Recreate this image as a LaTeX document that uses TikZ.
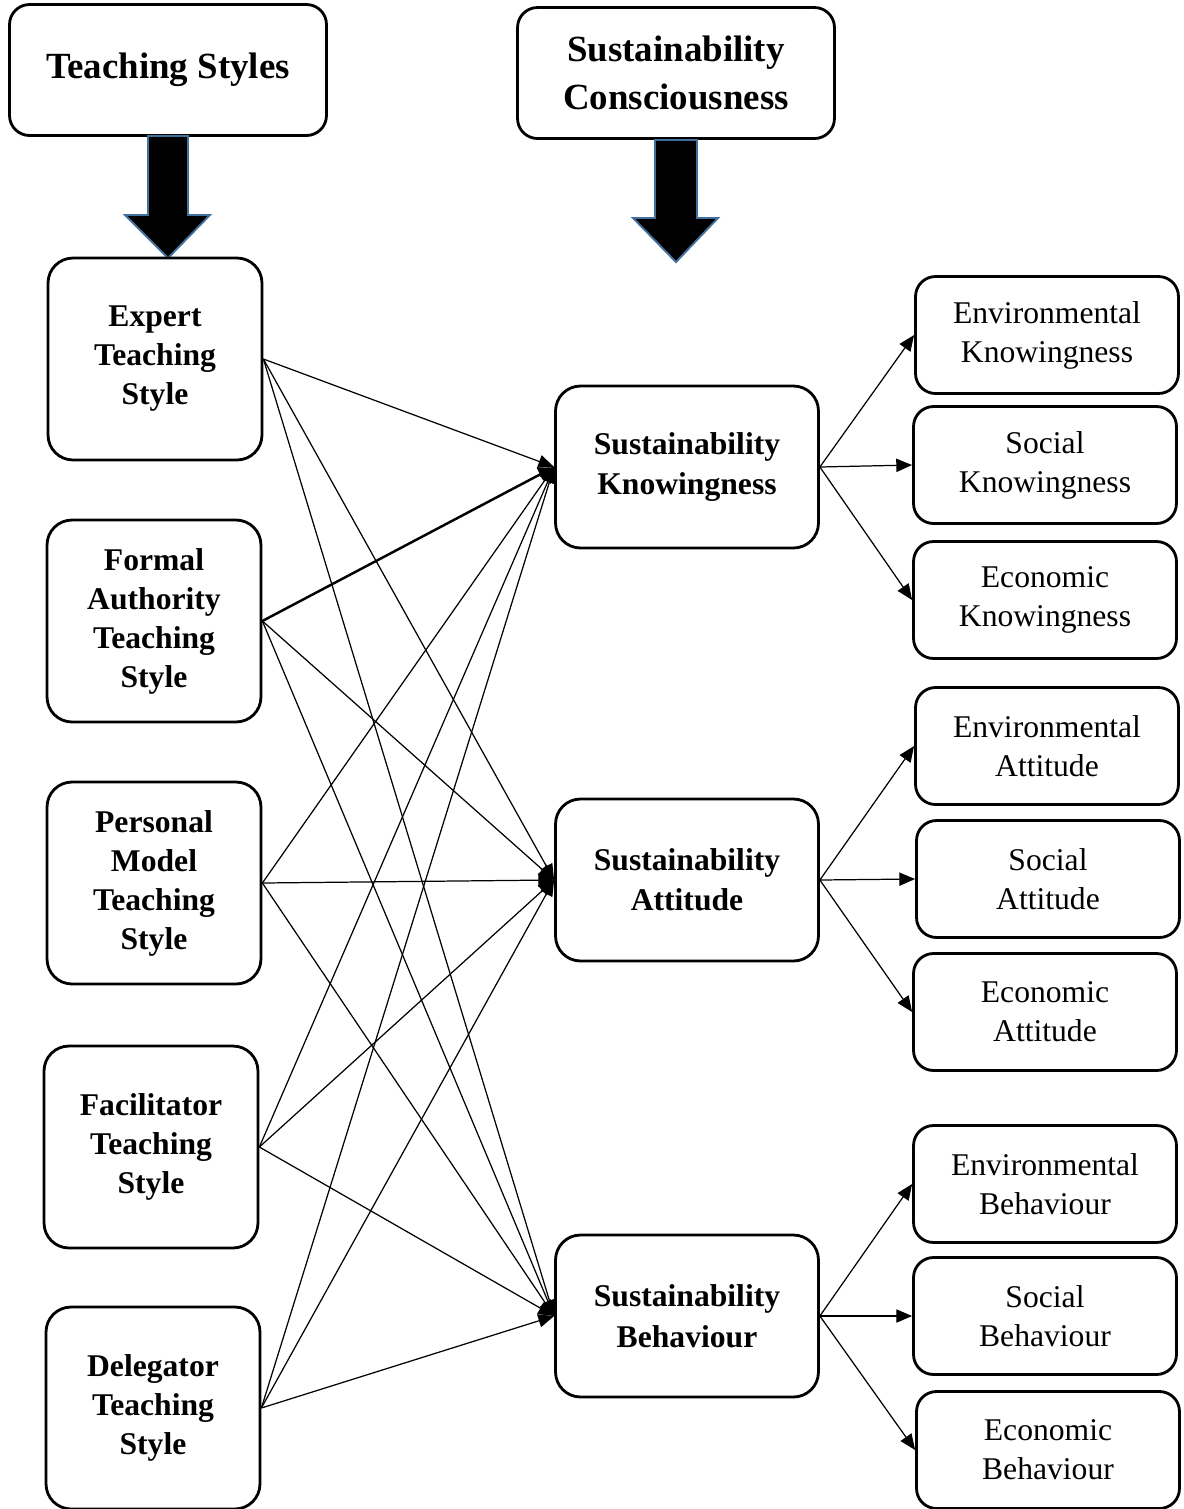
\documentclass[tikz,border=0pt]{standalone}
\usepackage{fontspec}
\setmainfont{Liberation Serif}
\usetikzlibrary{arrows.meta, positioning}

\begin{document}
\begin{tikzpicture}[
    x=0.02cm, y=-0.02cm,
    header/.style={rectangle, rounded corners=0.4cm, draw=black, line width=1.6pt,
                fill=white, align=center, font=\bfseries\fontsize{21}{27.3}\selectfont,
                minimum width=6.34cm, minimum height=2.62cm},
    stylebox/.style={rectangle, rounded corners=0.5cm, draw=black, line width=1.6pt,
                fill=white, align=center, font=\bfseries\fontsize{18}{22.2}\selectfont,
                minimum width=4.28cm, minimum height=4.04cm},
    mainbox/.style={rectangle, rounded corners=0.5cm, draw=black, line width=1.6pt,
                fill=white, align=center, font=\bfseries\fontsize{18}{23}\selectfont,
                minimum width=5.26cm, minimum height=3.24cm},
    subbox/.style={rectangle, rounded corners=0.4cm, draw=black, line width=1.6pt,
                fill=white, align=center, font=\fontsize{18}{22.2}\selectfont,
                minimum width=5.26cm, minimum height=2.34cm},
    arrow/.style={-{Triangle[length=9pt,width=7.5pt]}, line width=0.7pt, draw=black},
    bigarrow/.style={fill=black, draw={rgb,255:red,65;green,113;blue,156}, line width=1.1pt}
]
\useasboundingbox (0,0) rectangle (1184,1509);

% headers
\node[header] (ts) at (168,70) {Teaching Styles};
\node[header] (sc) at (676,73) {Sustainability\\Consciousness};
\draw[bigarrow] (148,136) -- (188,136) -- (188,215) -- (210,215) -- (168,258)
    -- (125,215) -- (148,215) -- cycle;
\draw[bigarrow] (655,140) -- (697,140) -- (697,218) -- (718,218) -- (676,262)
    -- (633,218) -- (655,218) -- cycle;

% teaching styles
\node[stylebox] (expert) at (155,359) {Expert\\Teaching\\Style};
\node[stylebox] (formal) at (154,621) {Formal\\Authority\\Teaching\\Style};
\node[stylebox] (personal) at (154,883) {Personal\\Model\\Teaching\\Style};
\node[stylebox] (facil) at (151,1147) {Facilitator\\Teaching\\Style};
\node[stylebox] (deleg) at (153,1408) {Delegator\\Teaching\\Style};

% sustainability consciousness
\node[mainbox] (know) at (687,467) {Sustainability\\Knowingness};
\node[mainbox] (att) at (687,880) {Sustainability\\Attitude};
\node[mainbox] (beh) at (687,1316) {Sustainability\\Behaviour};

% dimensions
\node[subbox] (env_know) at (1047,335) {Environmental\\Knowingness};
\node[subbox] (soc_know) at (1045,465) {Social\\Knowingness};
\node[subbox] (eco_know) at (1045,600) {Economic\\Knowingness};
\node[subbox] (env_att) at (1047,746) {Environmental\\Attitude};
\node[subbox] (soc_att) at (1048,879) {Social\\Attitude};
\node[subbox] (eco_att) at (1045,1012) {Economic\\Attitude};
\node[subbox] (env_beh) at (1045,1184) {Environmental\\Behaviour};
\node[subbox] (soc_beh) at (1045,1316) {Social\\Behaviour};
\node[subbox] (eco_beh) at (1048,1450) {Economic\\Behaviour};

% styles to consciousness
\draw[arrow] (expert.east) -- (know.west);
\draw[arrow] (expert.east) -- (att.west);
\draw[arrow] (expert.east) -- (beh.west);
\draw[arrow, line width=1.4pt] (formal.east) -- (know.west);
\draw[arrow] (formal.east) -- (att.west);
\draw[arrow] (formal.east) -- (beh.west);
\draw[arrow] (personal.east) -- (know.west);
\draw[arrow] (personal.east) -- (att.west);
\draw[arrow] (personal.east) -- (beh.west);
\draw[arrow] (facil.east) -- (know.west);
\draw[arrow] (facil.east) -- (att.west);
\draw[arrow] (facil.east) -- (beh.west);
\draw[arrow] (deleg.east) -- (know.west);
\draw[arrow] (deleg.east) -- (att.west);
\draw[arrow] (deleg.east) -- (beh.west);

% consciousness to dimensions
\draw[arrow] (know.east) -- (env_know.west);
\draw[arrow] (know.east) -- (soc_know.west);
\draw[arrow] (know.east) -- (eco_know.west);
\draw[arrow] (att.east) -- (env_att.west);
\draw[arrow] (att.east) -- (soc_att.west);
\draw[arrow] (att.east) -- (eco_att.west);
\draw[arrow] (beh.east) -- (env_beh.west);
\draw[arrow] (beh.east) -- (soc_beh.west);
\draw[arrow] (beh.east) -- (eco_beh.west);

\end{tikzpicture}
\end{document}
